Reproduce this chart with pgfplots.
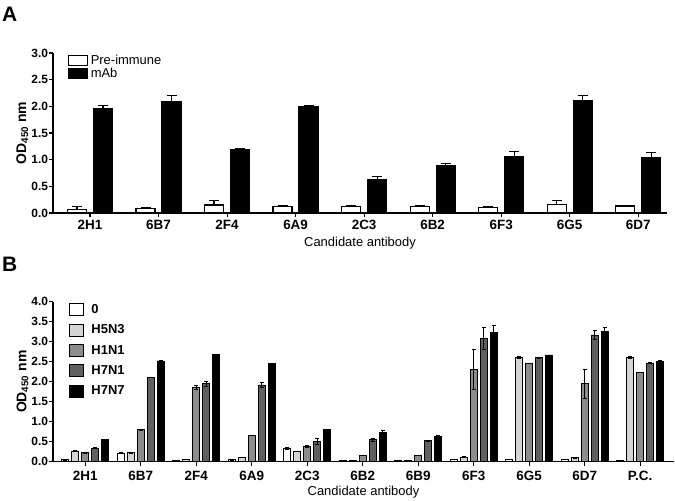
\documentclass[border=0pt]{standalone}
\usepackage{fontspec}
\setmainfont{Liberation Sans}
\usepackage{pgfplots}
\pgfplotsset{compat=1.18}
\usepackage{pgfplotstable}

\definecolor{cH5}{HTML}{D4D4D4}
\definecolor{cH1}{HTML}{8C8C8C}
\definecolor{cH7}{HTML}{606060}

\pgfplotstableread{
x pre pree mab mabe
0 0.06 0.06 1.96 0.05
1 0.08 0.03 2.08 0.12
2 0.15 0.08 1.18 0.02
3 0.12 0.01 2.00 0.01
4 0.125 0.015 0.63 0.05
5 0.12 0.01 0.89 0.04
6 0.11 0.01 1.05 0.10
7 0.16 0.07 2.10 0.10
8 0.13 0.01 1.04 0.10
}\tblA

\pgfplotstableread{
x a ae b be c ce d de e ee
0 0.05 0.01 0.27 0.01 0.23 0.01 0.34 0.01 0.55 0.01
1 0.22 0.01 0.23 0.01 0.80 0.02 2.10 0.00 2.52 0.01
2 0.04 0.00 0.06 0.00 1.86 0.04 1.95 0.06 2.68 0.00
3 0.05 0.01 0.10 0.00 0.66 0.01 1.92 0.07 2.45 0.01
4 0.33 0.03 0.26 0.01 0.38 0.02 0.51 0.07 0.81 0.00
5 0.04 0.00 0.04 0.00 0.16 0.00 0.55 0.03 0.74 0.05
6 0.04 0.00 0.04 0.00 0.16 0.00 0.53 0.01 0.63 0.03
7 0.05 0.00 0.12 0.01 2.31 0.51 3.08 0.27 3.23 0.17
8 0.06 0.01 2.61 0.02 2.46 0.00 2.60 0.01 2.67 0.00
9 0.06 0.00 0.10 0.01 1.95 0.37 3.17 0.12 3.25 0.10
10 0.04 0.00 2.61 0.03 2.24 0.00 2.47 0.01 2.51 0.03
}\tblB

\pgfplotsset{
  myax/.style={
    scale only axis,
    axis x line*=bottom, axis y line*=left,
    axis line style={line width=1.3pt,-},
    tick style={line width=1.1pt, black},
    major tick length=4bp, tick align=outside,
    ymin=0, clip=false,
    /pgf/number format/assume math mode=true,
    xticklabel style={font=\fontsize{13.5}{15}\bfseries\selectfont},
    yticklabel style={font=\fontsize{12}{14}\bfseries\selectfont, inner sep=0.8bp},
    yticklabel={\pgfmathprintnumber[fixed,fixed zerofill,precision=1]{\tick}},
    xtick=data,
    ylabel={\textbf{OD\textsubscript{450} nm}},
    xlabel={Candidate antibody},
    xlabel style={font=\fontsize{13}{15}\selectfont},
  },
  myerr/.style={error bars/y dir=#1, error bars/y explicit,
    error bars/error bar style={black}},
}

\begin{document}
\begin{tikzpicture}
\path[use as bounding box] (0,0) rectangle (675bp,501bp);

\node[font=\fontsize{21}{24}\bfseries\selectfont, anchor=north west, inner sep=0pt] at (2bp,494bp) {A};
\node[font=\fontsize{21}{24}\bfseries\selectfont, anchor=north west, inner sep=0pt] at (2bp,244bp) {B};

% Panel A
\begin{axis}[myax,
  at={(53bp,288bp)}, anchor=south west,
  width=614bp, height=160bp,
  xmin=-0.54, xmax=8.42, ymax=3,
  ytick={0,0.5,...,3},
  xticklabels={2H1,6B7,2F4,6A9,2C3,6B2,6F3,6G5,6D7},
  ylabel style={font=\fontsize{14}{16}\selectfont, at={(axis description cs:-0.05,0.5)}, anchor=center},
  ybar=7bp, bar width=19bp,
  legend style={draw=none, fill=none, at={(0,1)}, anchor=north west,
    xshift=15bp, yshift=-2bp, inner sep=0pt, row sep=2bp,
    nodes={inner sep=0pt}, font=\fontsize{13}{15}\selectfont,
    /tikz/every odd column/.append style={column sep=2.5bp}},
  legend cell align=left,
  legend image code/.code={\draw[#1, line width=1.1pt] (0bp,-5bp) rectangle (19bp,5bp);},
]
\addplot[fill=white, draw=black, line width=1.2pt, myerr=plus,
  error bars/error bar style={line width=1.2pt},
  error bars/error mark options={rotate=90, mark size=5bp, line width=1.2pt, black}]
  table[x=x, y=pre, y error=pree]{\tblA};
\addplot[fill=black, draw=black, line width=1.2pt, myerr=plus,
  error bars/error bar style={line width=1.2pt},
  error bars/error mark options={rotate=90, mark size=5bp, line width=1.2pt, black}]
  table[x=x, y=mab, y error=mabe]{\tblA};
\legend{Pre-immune, mAb}
\end{axis}

% Panel B
\begin{axis}[myax,
  at={(53bp,39.3bp)}, anchor=south west,
  width=621bp, height=160bp,
  xmin=-0.58, xmax=10.61, ymax=4,
  ytick={0,0.5,...,4},
  xticklabels={2H1,6B7,2F4,6A9,2C3,6B2,6B9,6F3,6G5,6D7,P.C.},
  xticklabel style={yshift=-1.5bp},
  xlabel style={yshift=1bp},
  ylabel style={font=\fontsize{14}{16}\selectfont, at={(axis description cs:-0.049,0.5)}, anchor=center},
  ybar=3bp, bar width=7bp,
  legend style={draw=none, fill=none, at={(0,1)}, anchor=north west,
    xshift=16bp, yshift=-1.5bp, inner sep=0pt, row sep=7.5bp,
    nodes={inner sep=0pt}, font=\fontsize{13}{15}\bfseries\selectfont,
    /tikz/every odd column/.append style={column sep=7.5bp}},
  legend cell align=left,
  legend image code/.code={\draw[#1, line width=0.8pt] (0bp,-6bp) rectangle (14bp,6bp);},
  every axis plot/.append style={draw=black, line width=0.6pt, myerr=both,
    error bars/error bar style={line width=0.7pt},
    error bars/error mark options={rotate=90, mark size=2bp, line width=0.7pt, black}},
]
\addplot[fill=white] table[x=x, y=a, y error=ae]{\tblB};
\addplot[fill=cH5] table[x=x, y=b, y error=be]{\tblB};
\addplot[fill=cH1] table[x=x, y=c, y error=ce]{\tblB};
\addplot[fill=cH7] table[x=x, y=d, y error=de]{\tblB};
\addplot[fill=black] table[x=x, y=e, y error=ee]{\tblB};
\legend{0, H5N3, H1N1, H7N1, H7N7}
\end{axis}
\end{tikzpicture}
\end{document}
